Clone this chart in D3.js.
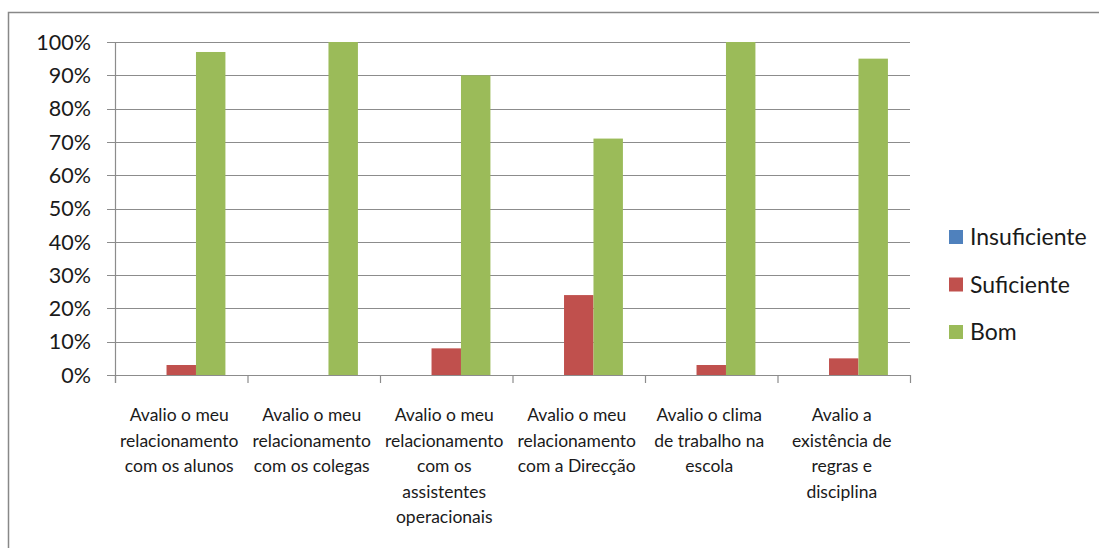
<!DOCTYPE html>
<html><head><meta charset="utf-8">
<script src="https://cdn.jsdelivr.net/npm/d3@7"></script>
<style>html,body{margin:0;padding:0;background:#fff;}svg{display:block;}</style>
</head><body>
<svg id="chart" width="1099" height="548"></svg>
<script>
const categories = [
  ["Avalio o meu","relacionamento","com os alunos"],
  ["Avalio o meu","relacionamento","com os colegas"],
  ["Avalio o meu","relacionamento","com os","assistentes","operacionais"],
  ["Avalio o meu","relacionamento","com a Direcção"],
  ["Avalio o clima","de trabalho na","escola"],
  ["Avalio a","existência de","regras e","disciplina"]
];
const seriesNames = ["Insuficiente","Suficiente","Bom"];
const insuficiente = [0,0,0,0,0,0];
const suficiente = [0.03,0,0.08,0.24,0.03,0.05];
const bom = [0.97,1.00,0.90,0.71,1.00,0.95];
const yTicks = [0,0.1,0.2,0.3,0.4,0.5,0.6,0.7,0.8,0.9,1.0];
const colors = ["#4F81BD","#C0504D","#9BBB59"];

(function(){
const seriesValues = [insuficiente, suficiente, bom];
const svg = d3.select("#chart");
const FONT = "Lato, 'DejaVu Sans', sans-serif";

// outer frame
svg.append("rect").attr("x",8.5).attr("y",12.5).attr("width",1200).attr("height",600)
  .attr("fill","none").attr("stroke","#888").attr("stroke-width",1.5);

const pL = 115, pR = 910, pT = 42, pB = 375;
const idx = categories.map((d,i)=>i);
const x = d3.scaleBand().domain(idx).range([pL,pR]).paddingInner(0).paddingOuter(0);
const groupW = x.bandwidth()*3/4.5;
const x1 = d3.scaleBand().domain(d3.range(3)).range([0,groupW]);
const y = d3.scaleLinear().domain([0,1]).range([pB,pT]);

// gridlines
svg.append("g").selectAll("line").data(yTicks).join("line")
  .attr("x1",pL-8).attr("x2",pR).attr("y1",d=>Math.round(y(d))+0.5).attr("y2",d=>Math.round(y(d))+0.5)
  .attr("stroke","#8c8c8c").attr("stroke-width",1.2);

// y labels
svg.append("g").selectAll("text").data(yTicks).join("text")
  .attr("x",91).attr("y",d=>y(d)).attr("dy","0.36em").attr("text-anchor","end")
  .attr("font-family",FONT).attr("font-size",21.5).attr("fill","#1a1a1a")
  .text(d=>d3.format(".0%")(d));

// bars
const groups = svg.append("g").selectAll("g").data(idx).join("g")
  .attr("transform",i=>`translate(${x(i)+(x.bandwidth()-groupW)/2},0)`);
groups.selectAll("rect").data(i=>seriesValues.map((s,k)=>({k,v:s[i]}))).join("rect")
  .attr("x",d=>x1(d.k)).attr("width",x1.bandwidth())
  .attr("y",d=>y(d.v)).attr("height",d=>pB-y(d.v))
  .attr("fill",d=>colors[d.k]);

// axes lines
svg.append("line").attr("x1",pL+0.5).attr("x2",pL+0.5).attr("y1",pT).attr("y2",pB+8)
  .attr("stroke","#8c8c8c").attr("stroke-width",1.2);
svg.append("line").attr("x1",pL).attr("x2",pR).attr("y1",pB+0.5).attr("y2",pB+0.5)
  .attr("stroke","#8c8c8c").attr("stroke-width",1.2);
const xTickPos = idx.map(i=>x(i)).concat([pR]);
svg.append("g").selectAll("line").data(xTickPos).join("line")
  .attr("x1",d=>d+0.5).attr("x2",d=>d+0.5).attr("y1",pB).attr("y2",pB+8)
  .attr("stroke","#8c8c8c").attr("stroke-width",1.2);

// category labels
const lab = svg.append("g").selectAll("text").data(idx).join("text")
  .attr("text-anchor","middle").attr("font-family",FONT).attr("font-size",17.5).attr("fill","#1a1a1a");
lab.selectAll("tspan").data(i=>categories[i].map(t=>({i,t}))).join("tspan")
  .attr("x",d=>x(d.i)+x.bandwidth()/2-2)
  .attr("y",(d,j)=>421+j*25.5)
  .text(d=>d.t);

// legend
const leg = svg.append("g").selectAll("g").data(seriesNames).join("g")
  .attr("transform",(d,k)=>`translate(949,${237+k*47.5})`);
leg.append("rect").attr("x",0).attr("y",-7).attr("width",14).attr("height",14).attr("fill",(d,k)=>colors[k]);
leg.append("text").attr("x",21).attr("y",0).attr("dy","0.36em")
  .attr("font-family",FONT).attr("font-size",23).attr("fill","#1a1a1a").text(d=>d);
})();
</script>
</body></html>
